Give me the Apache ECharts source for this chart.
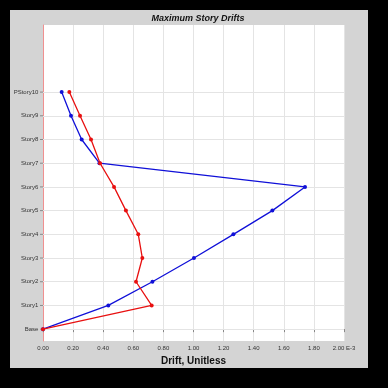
<!DOCTYPE html>
<html><head><meta charset="utf-8">
<script src="https://cdn.jsdelivr.net/npm/echarts@6/dist/echarts.min.js"></script>
<style>html,body{margin:0;padding:0;background:#000;}#c{width:388px;height:388px;}</style>
</head><body><div id="c"></div>
<script>
const stories = ['Base','Story1','Story2','Story3','Story4','Story5','Story6','Story7','Story8','Story9','PStory10'];
const driftBlue = [0, 0.434, 0.727, 1.003, 1.265, 1.524, 1.741, 0.375, 0.257, 0.186, 0.124];
const driftRed  = [0, 0.722, 0.618, 0.660, 0.633, 0.551, 0.472, 0.379, 0.319, 0.246, 0.175];
const xTicks = ['0.00','0.20','0.40','0.60','0.80','1.00','1.20','1.40','1.60','1.80','2.00 E-3'];

const chart = echarts.init(document.getElementById('c'), null, {renderer:'canvas'});
const toPts = arr => arr.map((v,i)=>[v,i]);
chart.setOption({
  backgroundColor:'#000',
  animation:false,
  graphic:[{type:'rect',z:-10,shape:{x:10,y:10,width:358,height:358},style:{fill:'#d4d4d4'}}],
  title:{text:'Maximum Story Drifts',left:193,top:9,textAlign:'center',
    textStyle:{fontFamily:'Liberation Sans',fontSize:9,fontWeight:'bold',fontStyle:'italic',color:'#111'}},
  grid:{left:43,top:25,right:44,bottom:47,show:true,backgroundColor:'#fff',borderWidth:0},
  xAxis:{type:'value',min:0,max:2,interval:0.2,
    name:'Drift, Unitless',nameLocation:'middle',nameGap:14,
    nameTextStyle:{fontFamily:'Liberation Sans',fontSize:10,fontWeight:'bold',color:'#111'},
    axisLine:{show:true,lineStyle:{color:'#e86060',width:1}},
    axisTick:{show:true,length:3,inside:false,lineStyle:{color:'#888'}},
    axisLabel:{fontFamily:'Liberation Sans',fontSize:6,color:'#333',margin:4,
      formatter:(v)=>{const i=Math.round(v/0.2);return xTicks[i]||'';}},
    splitLine:{show:true,lineStyle:{color:'#e4e4e4',width:1}}},
  yAxis:{type:'value',min:-0.5,max:12.83,interval:0.5,
    axisLine:{show:true,lineStyle:{color:'#f09090',width:1}},
    axisTick:{show:false},
    axisLabel:{fontFamily:'Liberation Sans',fontSize:6,color:'#333',margin:0,
      rich:{t:{width:3,height:1,backgroundColor:'#888'}},
      formatter:(v)=>{const i=Math.round(v);return (Math.abs(v-i)<1e-6 && stories[i])?(stories[i]+' {t|}'):'';}},
    splitLine:{show:false}},
  series:[
    {type:'line',data:[],z:1,silent:true,
     markLine:{silent:true,z:1,symbol:'none',label:{show:false},animation:false,
       lineStyle:{color:'#e4e4e4',width:1,type:'solid'},
       data:stories.map((s,i)=>({yAxis:i}))}},
    {type:'line',data:toPts(driftBlue),symbol:'circle',symbolSize:4,z:3,
     lineStyle:{color:'#1010d8',width:1.3},itemStyle:{color:'#1010d8'}},
    {type:'line',data:toPts(driftRed),symbol:'circle',symbolSize:4,z:4,
     lineStyle:{color:'#e81010',width:1.3},itemStyle:{color:'#e81010'}}
  ]
});
</script></body></html>
